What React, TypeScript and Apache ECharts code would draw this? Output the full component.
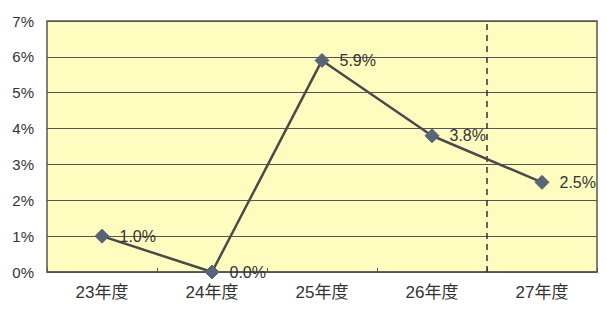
import React, { useEffect, useRef } from "react";
import * as echarts from "echarts";

const categories = ["23年度", "24年度", "25年度", "26年度", "27年度"];
const values = [1.0, 0.0, 5.9, 3.8, 2.5];
const yTicks = [0, 1, 2, 3, 4, 5, 6, 7];
const dividerPosition = 4; // boundary between 26年度 and 27年度

export default function App() {
  const ref = useRef<HTMLDivElement>(null);
  useEffect(() => {
    if (!ref.current) return;
    const chart = echarts.init(ref.current, null, { renderer: "svg" });
    const font = "'Liberation Sans', 'Noto Sans CJK JP', sans-serif";
    chart.setOption({
      animation: false,
      backgroundColor: "#ffffff",
      grid: {
        left: 47,
        right: 10,
        top: 21,
        bottom: 39,
        show: true,
        backgroundColor: "#fffcc0",
        borderColor: "#555555",
        borderWidth: 1.5,
      },
      xAxis: [
        {
          type: "category",
          data: categories,
          boundaryGap: true,
          axisLine: { show: true, lineStyle: { color: "#555555", width: 1.5 } },
          axisTick: { show: true, inside: true, length: 4, lineStyle: { color: "#555555" } },
          axisLabel: { color: "#333333", fontSize: 17, fontFamily: font, margin: 12 },
          splitLine: { show: false },
        },
        {
          type: "value",
          min: 0,
          max: categories.length,
          show: false,
        },
      ],
      yAxis: {
        type: "value",
        min: yTicks[0],
        max: yTicks[yTicks.length - 1],
        interval: 1,
        axisLine: { show: false },
        axisTick: { show: false },
        axisLabel: {
          color: "#333333",
          fontSize: 15,
          fontFamily: font,
          margin: 13,
          formatter: "{value}%",
        },
        splitLine: { show: true, lineStyle: { color: "#555555", width: 1 } },
      },
      series: [
        {
          type: "line",
          xAxisIndex: 1,
          data: [],
          silent: true,
          markLine: {
            silent: true,
            symbol: "none",
            label: { show: false },
            lineStyle: { color: "#333333", type: [6, 5], width: 1.5 },
            data: [{ xAxis: dividerPosition }],
          },
        },
        {
          type: "line",
          xAxisIndex: 0,
          data: values,
          symbol: "diamond",
          symbolSize: 14,
          z: 5,
          itemStyle: { color: "#5a6478", borderColor: "#5a6478" },
          lineStyle: { color: "#4a4a4a", width: 2.5 },
          label: {
            show: true,
            position: "right",
            distance: 10,
            color: "#333333",
            fontSize: 16,
            fontFamily: font,
            formatter: (p: any) => p.value.toFixed(1) + "%",
          },
        },
      ],
    });
    return () => chart.dispose();
  }, []);
  return (
    <div
      ref={ref}
      style={{ position: "fixed", left: 0, top: 0, width: 607, height: 311 }}
    />
  );
}
